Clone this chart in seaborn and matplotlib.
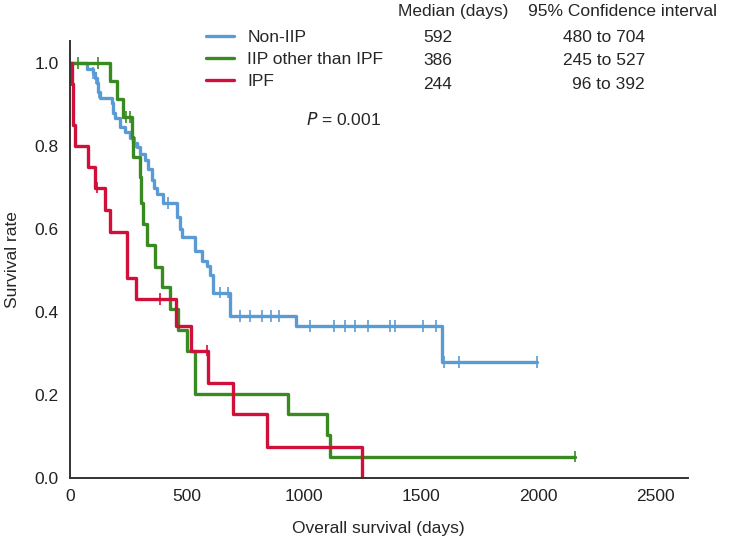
import numpy as np
import pandas as pd
import matplotlib
matplotlib.use("Agg")
import matplotlib.pyplot as plt
from matplotlib.lines import Line2D
import seaborn as sns

# Kaplan-Meier steps: day of each drop and survival after it
groups = ["Non-IIP", "IIP other than IPF", "IPF"]
colors = ["#5b9bd5", "#3a8a22", "#d0103a"]

non_iip_days = [0, 73, 98, 108, 115, 120, 128, 179, 184, 195, 214, 235, 256, 269,
                286, 299, 320, 335, 350, 360, 372, 397, 457, 470, 478, 534, 564,
                585, 600, 611, 684, 966, 1590, 1996]
non_iip_surv = [1.0, 0.985, 0.976, 0.964, 0.952, 0.93, 0.915, 0.903, 0.88, 0.867,
                0.845, 0.833, 0.82, 0.808, 0.797, 0.78, 0.766, 0.745, 0.717, 0.70,
                0.685, 0.662, 0.628, 0.60, 0.58, 0.548, 0.524, 0.512, 0.49, 0.447,
                0.391, 0.367, 0.28, 0.28]
non_iip_cens = [100, 112, 125, 278, 420, 641, 675, 726, 769, 821, 859, 893, 1026,
                1128, 1175, 1218, 1274, 1368, 1389, 1509, 1564, 1598, 1662, 1996]

other_days = [0, 171, 200, 227, 265, 272, 299, 303, 312, 329, 363, 393, 427, 461,
              500, 534, 932, 1098, 1111, 2160]
other_surv = [1.0, 0.957, 0.913, 0.870, 0.822, 0.773, 0.725, 0.662, 0.613, 0.561,
              0.509, 0.46, 0.408, 0.356, 0.307, 0.203, 0.155, 0.103, 0.052, 0.052]
other_cens = [34, 120, 240, 256, 2160]

ipf_days = [0, 8, 13, 15, 21, 77, 107, 150, 171, 243, 246, 285, 456, 520, 590,
            696, 841, 1247]
ipf_surv = [1.0, 0.95, 0.90, 0.85, 0.80, 0.75, 0.70, 0.645, 0.592, 0.536, 0.483,
            0.432, 0.367, 0.307, 0.23, 0.155, 0.075, 0.0]
ipf_cens = [115, 385, 587]

medians = ["592", "386", "244"]
conf_int = ["480 to 704", "245 to 527", "96 to 392"]


def surv_at(days, surv, t):
    idx = np.searchsorted(days, t, side="right") - 1
    return surv[idx]


curves = pd.concat([
    pd.DataFrame({"days": d, "surv": s, "group": g})
    for d, s, g in zip([non_iip_days, other_days, ipf_days],
                       [non_iip_surv, other_surv, ipf_surv], groups)
])
censored = pd.concat([
    pd.DataFrame({"days": c, "surv": [surv_at(d, s, t) for t in c], "group": g})
    for d, s, c, g in zip([non_iip_days, other_days, ipf_days],
                          [non_iip_surv, other_surv, ipf_surv],
                          [non_iip_cens, other_cens, ipf_cens], groups)
])

sns.set_style("white")
plt.rcParams["font.family"] = ["Liberation Sans", "DejaVu Sans"]

fig = plt.figure(figsize=(7.5, 5.39), dpi=100)
ax = fig.add_axes([0.093, 0.113, 0.824, 0.811])
palette = dict(zip(groups, colors))

sns.lineplot(data=curves, x="days", y="surv", hue="group", palette=palette,
             drawstyle="steps-post", linewidth=2.4, legend=False, ax=ax,
             estimator=None, sort=False)
sns.scatterplot(data=censored, x="days", y="surv", hue="group", palette=palette,
                marker="|", s=70, linewidth=1.2, legend=False, ax=ax)

ax.set_xlim(0, 2640)
ax.set_ylim(0, 1.053)
ax.set_xticks([0, 500, 1000, 1500, 2000, 2500])
ax.set_yticks([0.0, 0.2, 0.4, 0.6, 0.8, 1.0])
ax.set_yticklabels(["0.0", "0.2", "0.4", "0.6", "0.8", "1.0"])
ax.tick_params(length=0, labelsize=12.5, colors="#222222", pad=8)
ax.set_xlabel("Overall survival (days)", fontsize=12.5, labelpad=12)
ax.set_ylabel("Survival rate", fontsize=12.5, labelpad=10)
sns.despine(ax=ax)
for side in ["left", "bottom"]:
    ax.spines[side].set_color("#333333")
    ax.spines[side].set_linewidth(1.4)

handles = [Line2D([], [], color=c, linewidth=2.4) for c in colors]
fig.legend(handles, groups, loc="upper left", bbox_to_anchor=(0.266, 0.958),
           frameon=False, fontsize=12.5, handlelength=1.6, handletextpad=0.75,
           labelspacing=0.4, borderaxespad=0)

row_y = [0.931, 0.888, 0.844]
fig.text(0.531, 0.978, "Median (days)", fontsize=12.5, va="center")
fig.text(0.704, 0.978, "95% Confidence interval", fontsize=12.5, va="center")
for y, m, c in zip(row_y, medians, conf_int):
    fig.text(0.564, y, m, fontsize=12.5, va="center")
    fig.text(0.86, y, c, fontsize=12.5, va="center", ha="right")

ax.text(1170, 0.865, "$P$ = 0.001", fontsize=12.5, ha="center", va="center")

fig.savefig("out.png", dpi=100)
